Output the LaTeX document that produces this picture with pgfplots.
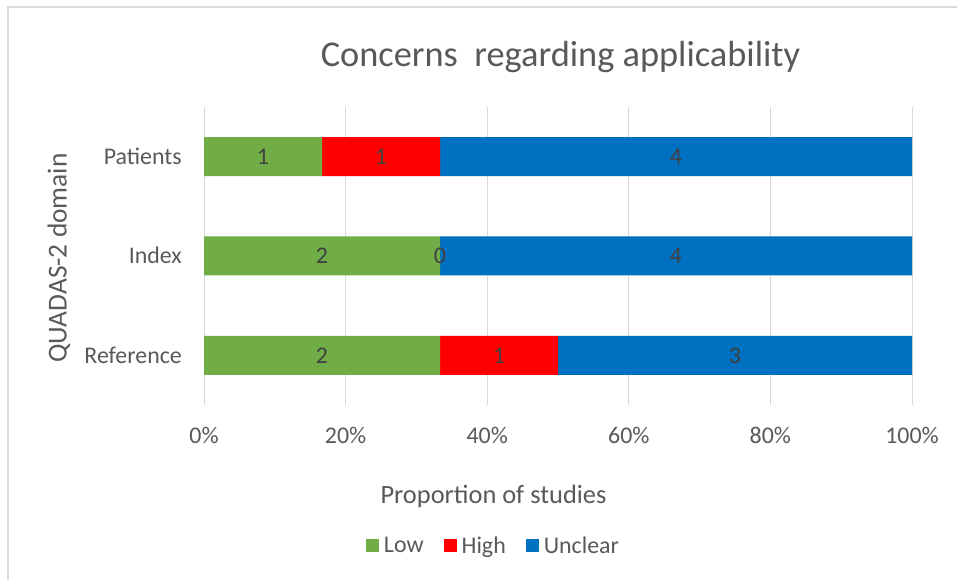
\documentclass[border=0pt]{standalone}
\usepackage{pgfplots}
\usepackage{pgfplotstable}
\pgfplotsset{compat=1.18}
\usepackage{fontspec}
\setmainfont{Carlito}
\definecolor{cLow}{HTML}{70AD47}
\definecolor{cHigh}{HTML}{FF0000}
\definecolor{cUnc}{HTML}{0070C0}
\definecolor{cText}{HTML}{595959}
\definecolor{cLab}{HTML}{404040}
\definecolor{cGrid}{HTML}{D9D9D9}
% y: 2 = Patients, 1 = Index, 0 = Reference; p = percent of studies
\pgfplotstableread{
y p
2 16.667
1 33.333
0 33.333
}\lowtab
\pgfplotstableread{
y p
2 16.667
1 0
0 16.667
}\hightab
\pgfplotstableread{
y p
2 66.667
1 66.667
0 50
}\unctab
% data labels: m = middle of the segment (percent), n = number of studies
\pgfplotstableread{
m y n
8.333 2 1
25 2 1
66.667 2 4
16.667 1 2
33.333 1 0
66.667 1 4
16.667 0 2
41.667 0 1
75 0 3
}\labtab
\begin{document}
\begin{tikzpicture}
\useasboundingbox (0,0) rectangle (957bp,580bp);
\fill[white] (0,0) rectangle (957bp,580bp);
\draw[cGrid, line width=1.5bp] (8bp,-20bp) -- (8bp,573bp) -- (980bp,573bp);
\begin{axis}[
  at={(204bp,175bp)}, anchor=south west,
  scale only axis, width=708bp, height=298bp,
  xbar stacked, bar width=39bp,
  xmin=0, xmax=100, ymin=-0.5, ymax=2.5,
  axis line style={draw=none},
  major tick length=0pt,
  xmajorgrids, grid style={cGrid, line width=1bp},
  ytick={0,1,2}, yticklabels={Reference,Index,Patients},
  xtick={0,20,40,60,80,100},
  xticklabel={\pgfmathprintnumber{\tick}\%},
  /pgf/number format/assume math mode=true,
  xticklabel style={anchor=base, yshift=-39bp, inner sep=0pt, text=cText, font=\fontsize{24}{28}\selectfont},
  yticklabel style={anchor=base east, xshift=-22bp, yshift=-8bp, inner sep=0pt, text=cText, font=\fontsize{24}{28}\selectfont},
  legend style={at={(0.411,-0.473)}, anchor=center, draw=none, fill=none,
    legend columns=-1, font=\fontsize{24}{28}\selectfont, text=cText,
    nodes={inner xsep=5bp},
    /tikz/every even column/.append style={column sep=15bp}},
  legend image code/.code={\fill[#1,draw=none] (0bp,-6.5bp) rectangle (13bp,6.5bp);},
]
\addplot[fill=cLow, draw=none] table[x=p, y=y] {\lowtab};
\addplot[fill=cHigh, draw=none] table[x=p, y=y] {\hightab};
\addplot[fill=cUnc, draw=none] table[x=p, y=y] {\unctab};
\legend{Low,High,Unclear}
\end{axis}
\begin{axis}[
  at={(204bp,175bp)}, anchor=south west,
  scale only axis, width=708bp, height=298bp,
  xmin=0, xmax=100, ymin=-0.5, ymax=2.5,
  hide axis, clip=false,
]
\addplot[only marks, mark=none, point meta=explicit symbolic, nodes near coords,
  nodes near coords style={anchor=center, inner sep=0pt, text=cLab, font=\fontsize{24}{28}\selectfont}]
  table[x=m, y=y, meta=n] {\labtab};
\end{axis}
\node[anchor=base, font=\fontsize{36.5}{44}\selectfont, text=cText, inner sep=0pt] at (560.5bp,513.3bp) {Concerns\ \ regarding applicability};
\node[anchor=base, font=\fontsize{26.5}{31}\selectfont, text=cText, inner sep=0pt] at (493.5bp,76.7bp) {Proportion of studies};
\node[rotate=90, anchor=base, font=\fontsize{27.5}{32}\selectfont, text=cText, inner sep=0pt] at (66.5bp,322bp) {QUADAS-2 domain};
\end{tikzpicture}
\end{document}
